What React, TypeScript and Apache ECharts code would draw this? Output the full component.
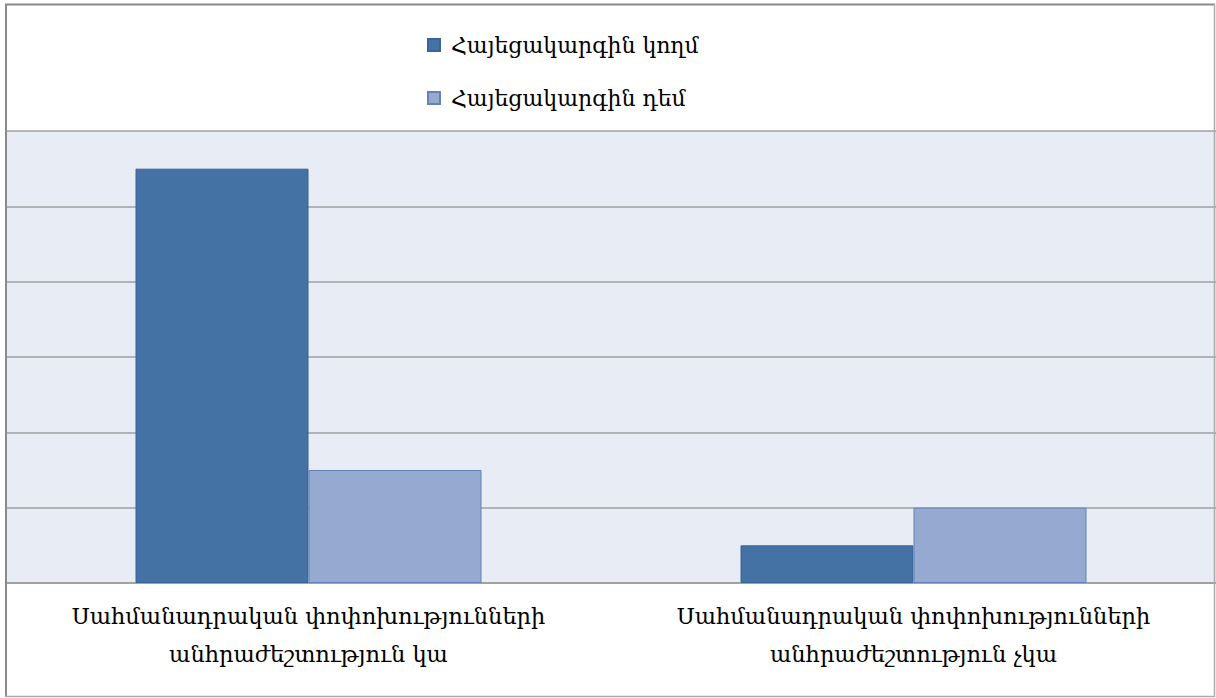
import React, { useEffect, useRef } from "react";
import * as echarts from "echarts";

const categories = [
  "Սահմանադրական փոփոխությունների\nանհրաժեշտություն կա",
  "Սահմանադրական փոփոխությունների\nանհրաժեշտություն չկա",
];
const seriesNames = ["Հայեցակարգին կողմ", "Հայեցակարգին դեմ"];
const forValues = [5.5, 0.5];
const againstValues = [1.5, 1.0];

const FONT = "'DejaVu Serif', serif";

export default function App() {
  const ref = useRef<HTMLDivElement>(null);
  useEffect(() => {
    if (!ref.current) return;
    const chart = echarts.init(ref.current, undefined, { renderer: "svg" });
    chart.setOption({
      animation: false,
      backgroundColor: "#ffffff",
      textStyle: { fontFamily: FONT },
      legend: {
        orient: "vertical",
        left: 422,
        top: 29,
        itemWidth: 12,
        itemHeight: 12,
        itemGap: 31,
        icon: "rect",
        data: seriesNames,
        textStyle: { fontFamily: FONT, fontSize: 22, color: "#000", lineHeight: 22, padding: [0, 0, 0, 6] },
      },
      grid: { left: 6, right: -1, top: 131, bottom: 115, show: true, backgroundColor: "#E8ECF5", borderWidth: 0 },
      xAxis: {
        type: "category",
        data: categories,
        axisLine: { lineStyle: { color: "#9c9c9c", width: 1.5 } },
        axisTick: { interval: 0, length: 9, lineStyle: { color: "#8c8c8c", width: 1.5 } },
        axisLabel: { interval: 0, fontFamily: FONT, fontSize: 22.5, color: "#000", lineHeight: 38, margin: 14 },
      },
      yAxis: {
        type: "value",
        min: 0,
        max: 6,
        interval: 1,
        axisLabel: { show: false },
        axisLine: { show: false },
        axisTick: { show: false },
        splitLine: { lineStyle: { color: "#a0a0a0", width: 1.5 } },
      },
      series: [
        {
          name: seriesNames[0],
          type: "bar",
          data: forValues,
          barWidth: 173,
          barGap: "0%",
          itemStyle: { color: "#4572A5", borderColor: "#3A6396", borderWidth: 1 },
        },
        {
          name: seriesNames[1],
          type: "bar",
          data: againstValues,
          barWidth: 173,
          barGap: "0%",
          itemStyle: { color: "#95A9D1", borderColor: "#6382B6", borderWidth: 1 },
        },
      ],
      graphic: [
        { type: "line", z: 100, shape: { x1: 5, y1: 4.5, x2: 1215, y2: 4.5 }, style: { stroke: "#8a8a8a", lineWidth: 2 } },
        { type: "line", z: 100, shape: { x1: 6, y1: 4, x2: 6, y2: 697 }, style: { stroke: "#8a8a8a", lineWidth: 2 } },
        { type: "line", z: 100, shape: { x1: 1214.5, y1: 4, x2: 1214.5, y2: 697 }, style: { stroke: "#ababab", lineWidth: 1.5 } },
        { type: "line", z: 100, shape: { x1: 5, y1: 696.5, x2: 1215, y2: 696.5 }, style: { stroke: "#ababab", lineWidth: 1.5 } },
      ],
    });
    return () => chart.dispose();
  }, []);
  return <div ref={ref} style={{ position: "absolute", left: 0, top: 0, width: 1216, height: 698 }} />;
}
